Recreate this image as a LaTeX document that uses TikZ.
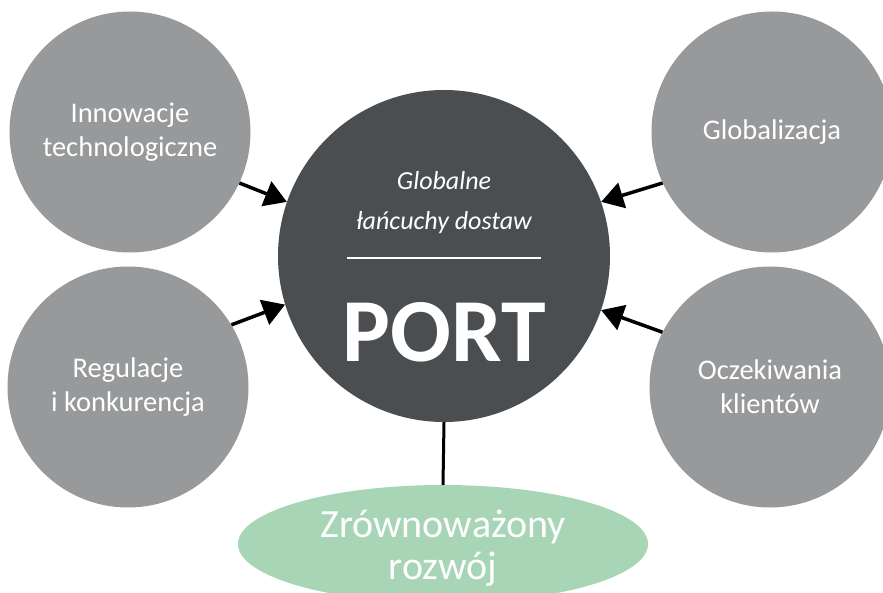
\documentclass[tikz,border=0pt]{standalone}
\usepackage{fontspec}
\setmainfont{Carlito}
\usetikzlibrary{arrows.meta,shapes.geometric}
\definecolor{dark}{HTML}{4B4E51}
\definecolor{grey}{HTML}{97999B}
\definecolor{mint}{HTML}{A8D5B6}

\begin{document}
\begin{tikzpicture}[x=1pt, y=-1pt, every node/.style={text=white, align=center}, factor/.style={circle, fill=grey, minimum size=241pt, inner sep=0pt, font=\fontsize{28.5}{34}\selectfont}, hub/.style={circle, fill=dark, minimum size=332pt, inner sep=0pt}, goal/.style={ellipse, fill=mint, minimum width=410pt, minimum height=118pt, inner sep=0pt}, arr/.style={-{Triangle[length=22pt,width=26pt]}, line width=3.5pt, black}]
\useasboundingbox (0,0) rectangle (883,593);
\node[hub] (port) at (444,256) {};
\node[factor] (tech) at (130,132) {Innowacje\\technologiczne};
\node[factor] (reg) at (128,387) {Regulacje\\i konkurencja};
\node[factor] (glob) at (772,132) {Globalizacja};
\node[factor] (client) at (770,387) {Oczekiwania\\klientów};
\node[goal] (sust) at (443,544) {};
\node[font=\fontsize{40}{42}\selectfont] (susttext) at (443,548) {Zrównoważony\\rozwój};
\node[font=\itshape\fontsize{26}{40}\selectfont] (chains) at (444,203) {Globalne\\łańcuchy dostaw};
\node[font=\bfseries\fontsize{90}{90}\selectfont, anchor=base] (name) at (444,362) {PORT};
\draw[white, line width=1.5pt] (347,258) -- (541,258);
\draw[arr] (tech.-25) -- (port.161);
\draw[arr] (reg.31) -- (port.197);
\draw[arr] (glob.205) -- (port.19);
\draw[arr] (client.153) -- (port.-19);
\draw[line width=3pt] (port.south) -- (sust.north);
\end{tikzpicture}
\end{document}
